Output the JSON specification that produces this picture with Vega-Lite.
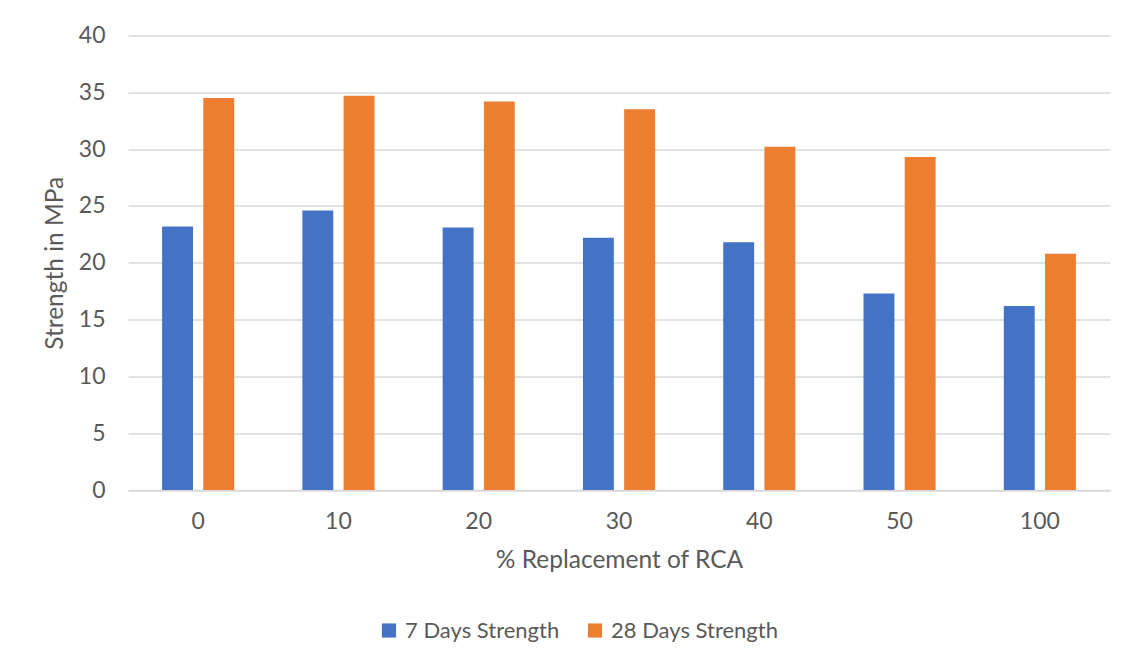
{
  "$schema": "https://vega.github.io/schema/vega-lite/v6.json",
  "autosize": "none",
  "width": 982,
  "height": 454.5,
  "padding": {"left": 128, "top": 35.5, "right": 26, "bottom": 176},
  "background": "white",
  "data": {
    "values": [
      {"replacement": "0", "series": "7 Days Strength", "strength": 23.2},
      {"replacement": "0", "series": "28 Days Strength", "strength": 34.5},
      {"replacement": "10", "series": "7 Days Strength", "strength": 24.6},
      {"replacement": "10", "series": "28 Days Strength", "strength": 34.7},
      {"replacement": "20", "series": "7 Days Strength", "strength": 23.1},
      {"replacement": "20", "series": "28 Days Strength", "strength": 34.2},
      {"replacement": "30", "series": "7 Days Strength", "strength": 22.2},
      {"replacement": "30", "series": "28 Days Strength", "strength": 33.5},
      {"replacement": "40", "series": "7 Days Strength", "strength": 21.8},
      {"replacement": "40", "series": "28 Days Strength", "strength": 30.2},
      {"replacement": "50", "series": "7 Days Strength", "strength": 17.3},
      {"replacement": "50", "series": "28 Days Strength", "strength": 29.3},
      {"replacement": "100", "series": "7 Days Strength", "strength": 16.2},
      {"replacement": "100", "series": "28 Days Strength", "strength": 20.8}
    ]
  },
  "mark": {"type": "bar"},
  "encoding": {
    "x": {
      "field": "replacement",
      "type": "nominal",
      "sort": ["0", "10", "20", "30", "40", "50", "100"],
      "scale": {"paddingInner": 0.486, "paddingOuter": 0.243},
      "title": "% Replacement of RCA",
      "axis": {
        "labelAngle": 0,
        "ticks": false,
        "domainColor": "#d9d9d9",
        "domainWidth": 1.5,
        "labelPadding": 20,
        "labelFontSize": 23,
        "labelColor": "#595959",
        "titleFontSize": 24.5,
        "titleFontWeight": "normal",
        "titleColor": "#595959",
        "titlePadding": 15
      }
    },
    "xOffset": {
      "field": "series",
      "sort": ["7 Days Strength", "28 Days Strength"],
      "scale": {"paddingInner": 0.25, "paddingOuter": 0}
    },
    "y": {
      "field": "strength",
      "type": "quantitative",
      "scale": {"domain": [0, 40]},
      "title": "Strength in MPa",
      "axis": {
        "values": [0, 5, 10, 15, 20, 25, 30, 35, 40],
        "domain": false,
        "ticks": false,
        "grid": true,
        "gridColor": "#d9d9d9",
        "gridWidth": 1.5,
        "labelPadding": 23,
        "labelFontSize": 23,
        "labelColor": "#595959",
        "titleFontSize": 24.5,
        "titleFontWeight": "normal",
        "titleColor": "#595959",
        "titlePadding": 11
      }
    },
    "color": {
      "field": "series",
      "type": "nominal",
      "sort": ["7 Days Strength", "28 Days Strength"],
      "scale": {"domain": ["7 Days Strength", "28 Days Strength"], "range": ["#4472C4", "#ED7D31"]},
      "legend": {
        "title": null,
        "orient": "none",
        "legendX": 250,
        "legendY": 584,
        "direction": "horizontal",
        "symbolType": "square",
        "symbolSize": 200,
        "symbolStrokeWidth": 0,
        "labelFontSize": 22,
        "labelColor": "#595959",
        "labelLimit": 400,
        "labelOffset": 5,
        "columnPadding": 24
      }
    }
  },
  "config": {
    "view": {"stroke": null},
    "font": "Lato"
  }
}
